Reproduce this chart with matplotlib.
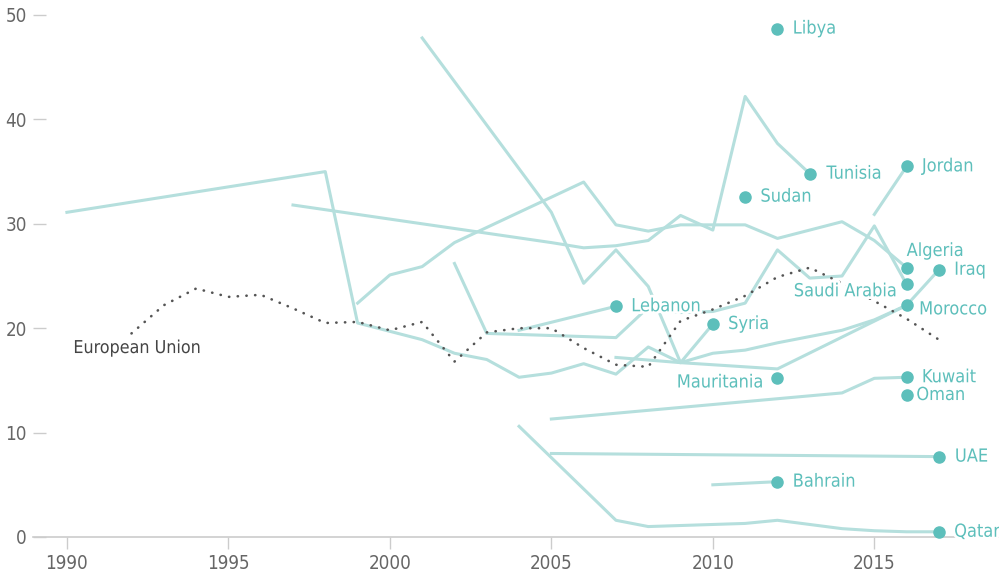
import matplotlib.pyplot as plt
import matplotlib.patheffects as pe
from matplotlib import font_manager

# values
eu_years = [1992, 1993, 1994, 1995, 1996, 1997, 1998, 1999, 2000, 2001, 2002, 2003,
            2004, 2005, 2006, 2007, 2008, 2009, 2010, 2011, 2012, 2013, 2014, 2015,
            2016, 2017]
eu_vals = [19.5, 22.2, 23.8, 23.0, 23.2, 21.9, 20.5, 20.6, 19.8, 20.6, 16.8, 19.6,
           20.0, 20.0, 18.1, 16.5, 16.3, 20.7, 21.8, 23.1, 24.9, 25.8, 24.3, 22.6,
           20.9, 18.9]

morocco_years = [1990, 1998, 1999, 2000, 2001, 2002, 2003, 2004, 2005, 2006, 2007,
                 2008, 2009, 2010, 2011, 2012, 2013, 2014, 2015, 2016]
morocco_vals = [31.1, 35.0, 20.5, 19.7, 18.9, 17.6, 17.0, 15.3, 15.7, 16.6, 15.6,
                18.2, 16.7, 17.6, 17.9, 18.6, 19.2, 19.8, 20.8, 22.2]

tunisia_years = [1997, 2005, 2006, 2007, 2008, 2009, 2010, 2011, 2012, 2013]
tunisia_vals = [31.8, 28.2, 27.7, 27.9, 28.4, 30.8, 29.4, 42.2, 37.7, 34.8]

algeria_years = [1999, 2000, 2001, 2002, 2006, 2007, 2008, 2009, 2010, 2011, 2012,
                 2013, 2014, 2015, 2016]
algeria_vals = [22.4, 25.1, 25.9, 28.2, 34.0, 29.9, 29.3, 29.9, 29.9, 29.9, 28.6,
                29.4, 30.2, 28.4, 25.8]

saudi_years = [2002, 2003, 2005, 2007, 2008, 2009, 2010, 2011, 2012, 2013, 2014,
               2015, 2016]
saudi_vals = [26.2, 19.5, 19.3, 19.1, 22.0, 21.5, 21.6, 22.4, 27.5, 24.8, 25.0,
              29.8, 24.2]

syria_years = [2001, 2005, 2006, 2007, 2008, 2009, 2010]
syria_vals = [47.8, 31.1, 24.3, 27.5, 24.0, 16.7, 20.4]

lebanon_years = [2004, 2007]
lebanon_vals = [19.8, 22.1]

iraq_years = [2007, 2009, 2012, 2016, 2017]
iraq_vals = [17.2, 16.7, 16.1, 22.2, 25.6]

jordan_years = [2015, 2016]
jordan_vals = [30.9, 35.5]

kuwait_years = [2005, 2014, 2015, 2016]
kuwait_vals = [11.3, 13.8, 15.2, 15.3]

uae_years = [2005, 2017]
uae_vals = [8.0, 7.7]

bahrain_years = [2010, 2012]
bahrain_vals = [5.0, 5.3]

qatar_years = [2004, 2007, 2008, 2009, 2011, 2012, 2014, 2015, 2016, 2017]
qatar_vals = [10.6, 1.6, 1.0, 1.1, 1.3, 1.6, 0.8, 0.6, 0.5, 0.5]

libya_years, libya_vals = [2012], [48.7]
sudan_years, sudan_vals = [2011], [32.6]
mauritania_years, mauritania_vals = [2012], [15.2]
oman_years, oman_vals = [2016], [13.6]

# name, years, values, label offset in points, horizontal alignment
countries = [
    ("Libya", libya_years, libya_vals, (11, 0), "left"),
    ("Tunisia", tunisia_years, tunisia_vals, (12, 0), "left"),
    ("Sudan", sudan_years, sudan_vals, (11, 0), "left"),
    ("Jordan", jordan_years, jordan_vals, (11, 0), "left"),
    ("Algeria", algeria_years, algeria_vals, (0, 12), "left"),
    ("Saudi Arabia", saudi_years, saudi_vals, (-7, -5), "right"),
    ("Iraq", iraq_years, iraq_vals, (11, 0), "left"),
    ("Morocco", morocco_years, morocco_vals, (9, -3), "left"),
    ("Lebanon", lebanon_years, lebanon_vals, (11, 0), "left"),
    ("Syria", syria_years, syria_vals, (11, 0), "left"),
    ("Mauritania", mauritania_years, mauritania_vals, (-10, -3), "right"),
    ("Kuwait", kuwait_years, kuwait_vals, (11, 0), "left"),
    ("Oman", oman_years, oman_vals, (7, 0), "left"),
    ("UAE", uae_years, uae_vals, (11.5, 0), "left"),
    ("Bahrain", bahrain_years, bahrain_vals, (11, 0), "left"),
    ("Qatar", qatar_years, qatar_vals, (11, 0), "left"),
]

line_col = "#b5dfdd"
dot_col = "#5dbfbb"
halo = [pe.withStroke(linewidth=4, foreground="white")]

# condensed face if one is installed, else plain DejaVu Sans
fp = font_manager.FontProperties(family="DejaVu Sans", stretch="condensed")
font_file = font_manager.findfont(fp)


def cfont(size):
    return font_manager.FontProperties(fname=font_file, size=size)


fig = plt.figure(figsize=(9.99, 5.77), dpi=100)
ax = fig.add_axes([33 / 999, 40 / 577, 966 / 999, 522 / 577])

for name, yrs, vals, off, ha in countries:
    if len(yrs) > 1:
        ax.plot(yrs, vals, color=line_col, lw=2.2, zorder=2, clip_on=False)

ax.plot(eu_years, eu_vals, color="#555555", lw=1.9, linestyle=(0, (0.1, 3.2)),
        dash_capstyle="round", zorder=3, clip_on=False)
ax.text(1990.2, 18.1, "European Union", color="#444444", va="center", ha="left",
        zorder=5, path_effects=halo, fontproperties=cfont(12.8))

for name, yrs, vals, off, ha in countries:
    ax.plot(yrs[-1], vals[-1], "o", color=dot_col, ms=8, zorder=6, clip_on=False)
    ax.annotate(name, (yrs[-1], vals[-1]), xytext=off, textcoords="offset points",
                ha=ha, va="center", color=dot_col, zorder=5, path_effects=halo,
                fontproperties=cfont(13))

ax.set_xlim(1988.95, 2018.86)
ax.set_ylim(0, 50)
ax.set_xticks([1990, 1995, 2000, 2005, 2010, 2015])
ax.set_yticks([0, 10, 20, 30, 40, 50])
for s in ["top", "right", "left"]:
    ax.spines[s].set_visible(False)
ax.spines["bottom"].set_color("#cccccc")
ax.spines["bottom"].set_linewidth(1.2)
ax.tick_params(axis="y", direction="in", length=9.5, width=1, color="#cccccc",
               pad=4.5, labelcolor="#666666")
ax.tick_params(axis="x", direction="out", length=8.5, width=1, color="#cccccc",
               pad=4, labelcolor="#666666")
for lab in ax.get_xticklabels() + ax.get_yticklabels():
    lab.set_fontproperties(cfont(13.5))

fig.savefig("out.png", dpi=100)
